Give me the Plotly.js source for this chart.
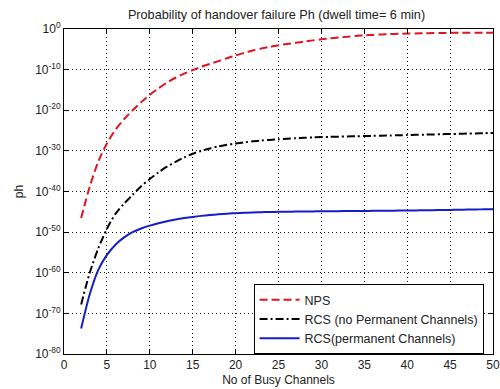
<!DOCTYPE html>
<html>
<head>
<meta charset="utf-8">
<script src="https://cdn.plot.ly/plotly-3.0.1.min.js"></script>
<style>html,body{margin:0;padding:0;background:#fff;}#chart{width:500px;height:389px;}</style>
</head>
<body>
<div id="chart"></div>
<script>
// Number of busy channels
var channels = [2,3,4,5,6,7,8,9,10,11,12,13,14,15,16,17,18,19,20,21,22,23,24,25,26,27,28,29,30,31,32,33,34,35,36,37,38,39,40,41,42,43,44,45,46,47,48,49,50];
// log10 of Ph
var npsExp = [-46.5,-38.8,-32.6,-28.2,-24.8,-22.2,-20.0,-18.0,-16.2,-14.6,-13.2,-12.0,-11.0,-10.1,-9.3,-8.6,-7.9,-7.2,-6.5,-5.9,-5.3,-4.8,-4.4,-4.0,-3.7,-3.4,-3.1,-2.8,-2.55,-2.3,-2.1,-1.9,-1.7,-1.55,-1.45,-1.35,-1.25,-1.18,-1.12,-1.08,-1.04,-1.0,-0.97,-0.95,-0.93,-0.92,-0.91,-0.9,-0.9];
var rcsNoPermExp = [-67.8,-60.0,-54.0,-49.2,-45.5,-43.0,-40.8,-38.7,-36.9,-35.3,-33.9,-32.7,-31.6,-30.7,-30.0,-29.4,-28.9,-28.5,-28.2,-27.9,-27.65,-27.45,-27.3,-27.15,-27.0,-26.9,-26.8,-26.7,-26.6,-26.55,-26.5,-26.45,-26.4,-26.35,-26.3,-26.25,-26.2,-26.15,-26.1,-26.05,-26.0,-25.95,-25.9,-25.85,-25.8,-25.75,-25.7,-25.65,-25.6];
var rcsPermExp = [-73.7,-65.3,-59.3,-55.6,-53.1,-51.3,-50.0,-49.1,-48.4,-47.8,-47.3,-46.9,-46.55,-46.25,-46.0,-45.8,-45.6,-45.45,-45.35,-45.25,-45.15,-45.1,-45.05,-45.0,-44.97,-44.94,-44.92,-44.9,-44.88,-44.86,-44.84,-44.82,-44.8,-44.78,-44.76,-44.74,-44.72,-44.7,-44.68,-44.65,-44.62,-44.59,-44.56,-44.53,-44.5,-44.46,-44.42,-44.38,-44.34];
var seriesNames = ['NPS', 'RCS (no Permanent Channels)', 'RCS(permanent Channels)'];
// y tick exponents and labels
var yTickExps = [0,-10,-20,-30,-40,-50,-60,-70,-80];
var yTickText = yTickExps.map(function(e){ return '10<sup>' + e + '</sup>'; });

function toValues(exps){ return exps.map(function(e){ return Math.pow(10, e); }); }

var traces = [
  {x: channels, y: toValues(npsExp), name: seriesNames[0], mode: 'lines',
   line: {color: 'rgb(225,20,30)', width: 2, dash: '8px,4px', shape: 'spline', smoothing: 0.8}},
  {x: channels, y: toValues(rcsNoPermExp), name: seriesNames[1], mode: 'lines',
   line: {color: '#000000', width: 2, dash: '8px,3px,2px,3px', shape: 'spline', smoothing: 0.8}},
  {x: channels, y: toValues(rcsPermExp), name: seriesNames[2], mode: 'lines',
   line: {color: 'rgb(20,30,200)', width: 2, shape: 'spline', smoothing: 0.8}}
];

var axisCommon = {
  showline: true, linecolor: '#000', linewidth: 1, mirror: 'ticks',
  ticks: 'inside', ticklen: 5, tickcolor: '#000',
  showgrid: true, gridcolor: '#111', griddash: '1px,3px', gridwidth: 1,
  zeroline: false,
  tickfont: {family: 'Liberation Sans, Arial, sans-serif', size: 12, color: '#222'}
};

var layout = {
  width: 500, height: 389,
  margin: {l: 64, r: 7, t: 29, b: 35},
  paper_bgcolor: '#fff', plot_bgcolor: '#fff',
  font: {family: 'Liberation Sans, Arial, sans-serif', size: 12, color: '#222'},
  title: {text: 'Probability of handover failure Ph (dwell time= 6 min)',
          font: {size: 12.7, color: '#222'}, x: 0.553, xanchor: 'center', y: 0.963, yanchor: 'middle'},
  xaxis: Object.assign({}, axisCommon, {
    range: [0, 50], dtick: 5, tick0: 0,
    title: {text: 'No of Busy Channels', font: {size: 12}, standoff: 4}
  }),
  yaxis: Object.assign({}, axisCommon, {
    type: 'log', range: [-80, 0],
    tickmode: 'array', tickvals: toValues(yTickExps), ticktext: yTickText,
    title: {text: 'ph', font: {size: 12}, standoff: 8}
  }),
  showlegend: true,
  legend: {x: 0.978, y: 0.0, xanchor: 'right', yanchor: 'bottom',
           bgcolor: '#fff', bordercolor: '#000', borderwidth: 1, itemwidth: 40,
           font: {size: 12.5, color: '#222'}, tracegroupgap: 0}
};

Plotly.newPlot('chart', traces, layout, {displayModeBar: false, staticPlot: true});
</script>
</body>
</html>
